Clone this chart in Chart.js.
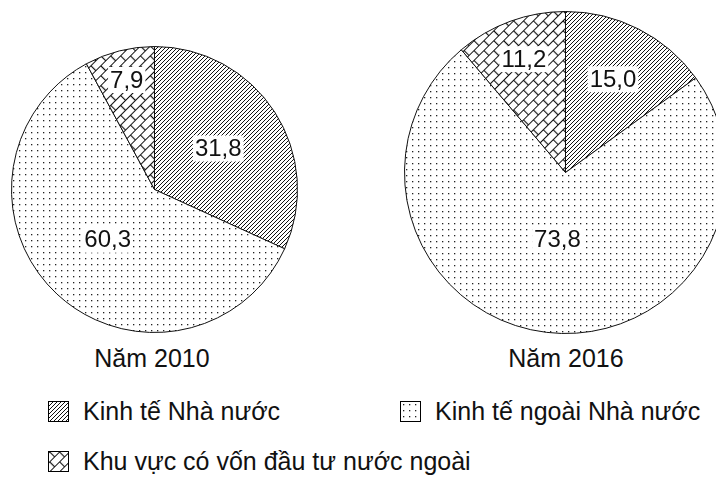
<!DOCTYPE html>
<html>
<head>
<meta charset="utf-8">
<script src="https://cdn.jsdelivr.net/npm/chart.js@4/dist/chart.umd.min.js"></script>
<style>
  html, body { margin: 0; padding: 0; background: #fff; overflow: hidden; }
  #wrap { position: relative; width: 716px; height: 494px; overflow: hidden; background: #fff;
          font-family: "Liberation Sans", Arial, sans-serif; color: #111; }
  canvas.pie { position: absolute; }
  .title { position: absolute; font-size: 25px; transform: translate(-50%, -50%); white-space: nowrap; }
  .leg { position: absolute; display: flex; align-items: center; font-size: 25px; white-space: nowrap; }
  .leg canvas { border: 1px solid #000; margin-right: 14px; }
</style>
</head>
<body>
<div id="wrap">
  <canvas id="pie2010" class="pie" width="287" height="287" style="left:11px; top:46px"></canvas>
  <canvas id="pie2016" class="pie" width="323" height="323" style="left:404px; top:11px"></canvas>
  <div class="title" style="left:152px; top:358px">Năm 2010</div>
  <div class="title" style="left:566px; top:358px">Năm 2016</div>
  <div id="legend"></div>
</div>
<script>
// Cơ cấu theo thành phần kinh tế (%)
const categories = ['Kinh tế Nhà nước', 'Kinh tế ngoài Nhà nước', 'Khu vực có vốn đầu tư nước ngoài'];
const years = ['Năm 2010', 'Năm 2016'];
const values2010 = [31.8, 60.3, 7.9];
const values2016 = [15.0, 73.8, 11.2];

// label distance from centre, as fraction of radius
const labelPos2010 = [0.53, 0.48, 0.79];
const labelPos2016 = [0.65, 0.42, 0.75];

// --- patterns ---
function makeTile(w, h, draw) {
  const c = document.createElement('canvas');
  c.width = w; c.height = h;
  const g = c.getContext('2d');
  g.fillStyle = '#fff';
  g.fillRect(0, 0, w, h);
  draw(g);
  return c;
}

const hatchTile = makeTile(4, 4, g => {
  g.strokeStyle = '#111';
  g.lineWidth = 1;
  g.beginPath();
  g.moveTo(-1, 5); g.lineTo(5, -1);
  g.moveTo(-1, 1); g.lineTo(1, -1);
  g.moveTo(3, 5); g.lineTo(5, 3);
  g.stroke();
});

const dotTile = makeTile(6, 6, g => {
  g.fillStyle = '#222';
  g.fillRect(2, 2, 1.3, 1.3);
});

const brickTile = makeTile(14, 14, g => {
  g.strokeStyle = '#111';
  g.lineWidth = 1.2;
  g.beginPath();
  g.moveTo(0, 0.5); g.lineTo(14, 0.5);
  g.moveTo(0, 7.5); g.lineTo(14, 7.5);
  g.moveTo(0.5, 0); g.lineTo(0.5, 7.5);
  g.moveTo(7.5, 7.5); g.lineTo(7.5, 14);
  g.stroke();
});

function patternFor(ctx, i) {
  if (i === 0) return ctx.createPattern(hatchTile, 'repeat');
  if (i === 1) return ctx.createPattern(dotTile, 'repeat');
  const p = ctx.createPattern(brickTile, 'repeat');
  p.setTransform(new DOMMatrix().rotate(-45));
  return p;
}

// white-boxed value labels inside slices
const sliceLabels = {
  id: 'sliceLabels',
  afterDatasetsDraw(chart, args, opts) {
    const { ctx } = chart;
    const meta = chart.getDatasetMeta(0);
    const data = chart.data.datasets[0].data;
    ctx.save();
    ctx.font = '24px "Liberation Sans", Arial, sans-serif';
    ctx.textAlign = 'center';
    ctx.textBaseline = 'middle';
    meta.data.forEach((arc, i) => {
      const p = arc.getProps(['x', 'y', 'startAngle', 'endAngle', 'outerRadius'], true);
      const mid = (p.startAngle + p.endAngle) / 2;
      const r = p.outerRadius * opts.pos[i];
      const x = p.x + Math.cos(mid) * r;
      const y = p.y + Math.sin(mid) * r;
      const txt = data[i].toFixed(1).replace('.', ',');
      const w = ctx.measureText(txt).width + 4;
      ctx.fillStyle = '#fff';
      ctx.fillRect(x - w / 2, y - 13, w, 26);
      ctx.fillStyle = '#111';
      ctx.fillText(txt, x, y + 1);
    });
    ctx.restore();
  }
};

function drawPie(id, values, pos) {
  const ctx = document.getElementById(id).getContext('2d');
  return new Chart(ctx, {
    type: 'pie',
    data: {
      labels: categories,
      datasets: [{
        data: values,
        backgroundColor: values.map((_, i) => patternFor(ctx, i)),
        borderColor: '#111',
        borderWidth: 1,
        borderAlign: 'center'
      }]
    },
    options: {
      responsive: false,
      animation: false,
      layout: { padding: 0 },
      plugins: {
        legend: { display: false },
        tooltip: { enabled: false },
        sliceLabels: { pos }
      }
    },
    plugins: [sliceLabels]
  });
}

drawPie('pie2010', values2010, labelPos2010);
drawPie('pie2016', values2016, labelPos2016);

// legend
const legendSpots = [[48, 412], [400, 412], [48, 462]];
const legend = document.getElementById('legend');
categories.forEach((name, i) => {
  const item = document.createElement('div');
  item.className = 'leg';
  item.style.left = legendSpots[i][0] + 'px';
  item.style.top = (legendSpots[i][1] - 15) + 'px';
  const sw = document.createElement('canvas');
  sw.width = 19; sw.height = 19;
  const g = sw.getContext('2d');
  g.fillStyle = patternFor(g, i);
  g.fillRect(0, 0, 19, 19);
  const span = document.createElement('span');
  span.textContent = name;
  item.appendChild(sw);
  item.appendChild(span);
  legend.appendChild(item);
});
</script>
</body>
</html>
